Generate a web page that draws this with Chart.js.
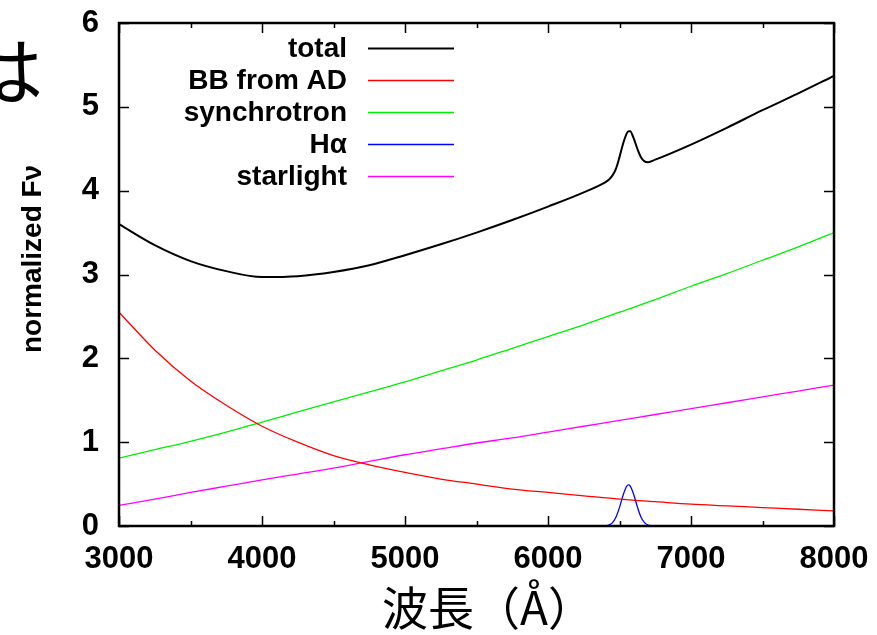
<!DOCTYPE html>
<html>
<head>
<meta charset="utf-8">
<script src="https://cdn.jsdelivr.net/npm/chart.js@4"></script>
<style>
  html, body { margin: 0; padding: 0; background: #fff; }
  #wrap { position: relative; width: 877px; height: 635px; overflow: hidden; }
  #kana { position: absolute; left: -31px; top: 30px; font: 74px/1 "Noto Sans CJK JP"; color: #000; }
  canvas { position: absolute; left: 0; top: 0; }
</style>
</head>
<body>
<div id="wrap">
  <canvas id="specChart" width="877" height="635"></canvas>
  <div id="kana">は</div>
</div>
<script>
// ── Data ──────────────────────────────────────────────────
const wave = [3000, 3250, 3500, 3750, 4000, 4250, 4500, 4750, 5000, 5250, 5500,
              5750, 6000, 6250, 6500, 6750, 7000, 7250, 7500, 7750, 8000];
const bbFlux = [2.55, 2.10, 1.73, 1.44, 1.19, 1.00, 0.84, 0.73, 0.64, 0.56, 0.50,
                0.44, 0.40, 0.36, 0.32, 0.29, 0.26, 0.24, 0.22, 0.20, 0.18];
const syncFlux = [0.81, 0.91, 1.01, 1.12, 1.24, 1.36, 1.48, 1.60, 1.72, 1.85, 1.98,
                  2.12, 2.26, 2.40, 2.55, 2.70, 2.86, 3.01, 3.17, 3.33, 3.50];
const starFlux = [0.245, 0.32, 0.40, 0.475, 0.55, 0.62, 0.69, 0.77, 0.85, 0.92, 0.99,
                  1.05, 1.12, 1.19, 1.26, 1.33, 1.40, 1.47, 1.54, 1.61, 1.68];

const totalWave = [3000, 3250, 3500, 3750, 4000, 4250, 4500, 4750, 5000, 5250, 5500,
                   5750, 6000, 6250, 6400, 6425, 6450, 6475, 6500, 6525, 6550, 6563,
                   6575, 6600, 6625, 6650, 6675, 6700, 6750, 7000, 7250, 7500, 7750, 8000];
const totalFlux = [3.60, 3.35, 3.16, 3.04, 2.97, 2.98, 3.03, 3.11, 3.23, 3.36, 3.50,
                   3.65, 3.81, 3.98, 4.10, 4.13, 4.18, 4.26, 4.40, 4.56, 4.68, 4.71,
                   4.71, 4.62, 4.50, 4.40, 4.35, 4.34, 4.37, 4.55, 4.75, 4.96, 5.16, 5.37];

const haWave = [6400, 6425, 6450, 6475, 6500, 6525, 6550, 6563, 6575, 6600, 6625, 6650, 6675, 6700, 6725];
const haFlux = [0, 0.011, 0.038, 0.104, 0.222, 0.367, 0.474, 0.49, 0.476, 0.373, 0.227, 0.108, 0.04, 0.011, 0];

const xMin = 3000, xMax = 8000, xStep = 500;
const yMin = 0, yMax = 6, yStep = 1;

const pts = (xs, ys) => xs.map((x, i) => ({ x, y: ys[i] }));

// ── Plugins ───────────────────────────────────────────────
// gnuplot-style frame with inward ticks on all four sides
const framePlugin = {
  id: 'frame',
  afterDraw(chart) {
    const { ctx, chartArea: a, scales: { x, y } } = chart;
    ctx.save();
    ctx.strokeStyle = '#000';
    ctx.lineWidth = 1.5;
    ctx.beginPath();
    x.ticks.forEach(t => {
      const px = Math.round(x.getPixelForValue(t.value)) + 0.5;
      const len = t.value % 1000 ? 5 : 10;
      ctx.moveTo(px, a.bottom); ctx.lineTo(px, a.bottom - len);
      ctx.moveTo(px, a.top); ctx.lineTo(px, a.top + len);
    });
    y.ticks.forEach(t => {
      const py = Math.round(y.getPixelForValue(t.value)) + 0.5;
      ctx.moveTo(a.left, py); ctx.lineTo(a.left + 10, py);
      ctx.moveTo(a.right, py); ctx.lineTo(a.right - 10, py);
    });
    ctx.stroke();
    ctx.lineWidth = 2.5;
    ctx.strokeRect(a.left, a.top, a.right - a.left, a.bottom - a.top);
    ctx.restore();
  }
};

// key in the upper left: label right-aligned, sample line to its right
const keyPlugin = {
  id: 'key',
  afterDatasetsDraw(chart) {
    const ctx = chart.ctx;
    ctx.save();
    ctx.font = 'bold 28px "Liberation Sans"';
    ctx.textAlign = 'right';
    ctx.textBaseline = 'middle';
    chart.data.datasets.forEach((ds, i) => {
      const yy = 48 + i * 32;
      ctx.fillStyle = '#000';
      ctx.fillText(ds.label, 347, yy + 1);
      ctx.strokeStyle = ds.borderColor;
      ctx.lineWidth = ds.borderWidth;
      ctx.beginPath();
      ctx.moveTo(368, yy + 0.5);
      ctx.lineTo(454, yy + 0.5);
      ctx.stroke();
    });
    ctx.restore();
  }
};

// ── Chart ─────────────────────────────────────────────────
const tickFont = { family: '"Liberation Sans", Arial, sans-serif', size: 31, weight: 'bold' };
const line = (label, data, color, width) => ({
  label, data,
  borderColor: color,
  backgroundColor: color,
  borderWidth: width,
  pointRadius: 0,
  fill: false,
  cubicInterpolationMode: 'monotone'
});

new Chart(document.getElementById('specChart').getContext('2d'), {
  type: 'line',
  data: {
    datasets: [
      line('total', pts(totalWave, totalFlux), '#000000', 2),
      line('BB from AD', pts(wave, bbFlux), '#ff0000', 1.3),
      line('synchrotron', pts(wave, syncFlux), '#00ee00', 1.3),
      line('H\u03b1', pts(haWave, haFlux), '#0000ff', 1.3),
      line('starlight', pts(wave, starFlux), '#ff00ff', 1.3)
    ]
  },
  options: {
    responsive: false,
    animation: false,
    devicePixelRatio: 1,
    layout: { padding: { top: 23, right: 43, bottom: 0, left: 0 } },
    plugins: { legend: { display: false }, tooltip: { enabled: false } },
    scales: {
      x: {
        type: 'linear',
        min: xMin, max: xMax,
        grid: { display: false, drawTicks: false },
        border: { display: false },
        ticks: {
          stepSize: xStep,
          autoSkip: false,
          maxRotation: 0,
          padding: 15,
          color: '#000',
          font: tickFont,
          callback: v => (v % 1000 === 0 ? String(v) : '')
        },
        title: {
          display: true,
          text: '\u2002波長（Å）',
          color: '#000',
          font: { family: '"Noto Sans CJK JP"', size: 46, lineHeight: 1.0 }
        },
        afterFit: s => { s.height = 109; s.paddingLeft = 0; s.paddingRight = 0; }
      },
      y: {
        min: yMin, max: yMax,
        grid: { display: false, drawTicks: false },
        border: { display: false },
        ticks: { stepSize: yStep, padding: 20, color: '#000', font: tickFont },
        title: {
          display: true,
          text: '    normalized F\u03bd',
          color: '#000',
          font: { family: '"Liberation Sans", Arial, sans-serif', size: 28, weight: 'bold', lineHeight: 2.1 }
        },
        afterFit: s => { s.width = 119; s.paddingTop = 0; s.paddingBottom = 0; }
      }
    }
  },
  plugins: [framePlugin, keyPlugin]
});
</script>
</body>
</html>
